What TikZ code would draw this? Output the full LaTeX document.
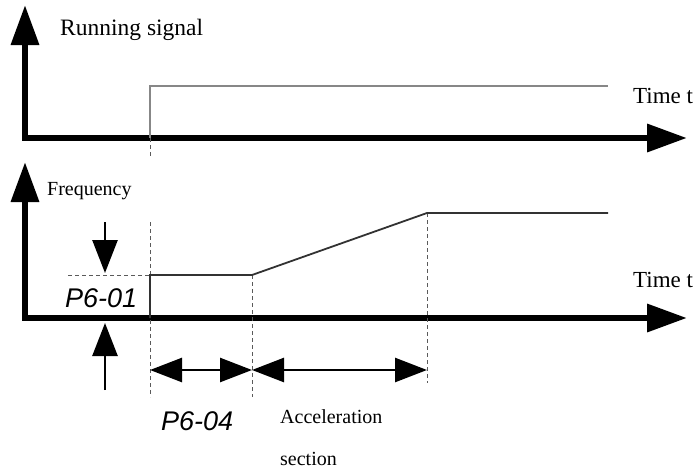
\documentclass[tikz,border=0pt]{standalone}
\usepackage{fontspec}
\setmainfont{Liberation Serif}
\newfontfamily\arialit{Liberation Sans}[ItalicFont={Liberation Sans Italic}]
\usetikzlibrary{arrows.meta}
\begin{document}
\begin{tikzpicture}[x=1pt,y=-1pt,
  axis/.style={line width=6.5pt, line join=miter, -{Triangle[length=40pt,width=27pt]}},
  signal/.style={line width=2.4pt, draw={rgb,255:red,135;green,135;blue,135}},
  freq/.style={line width=1.8pt, draw={rgb,255:red,50;green,50;blue,50}, line join=miter},
  guide/.style={line width=1pt, draw={rgb,255:red,90;green,90;blue,90}, dash pattern=on 4pt off 3pt},
  pointer/.style={line width=2.6pt, -{Triangle[length=33pt,width=25pt]}},
  span/.style={line width=2.6pt, {Triangle[length=32pt,width=24pt]}-{Triangle[length=32pt,width=24pt]}},
  lab/.style={inner sep=0pt, anchor=base west},
  param/.style={inner sep=0pt, anchor=base west, font=\arialit\itshape\fontsize{27}{30}\selectfont}]
\useasboundingbox (0,0) rectangle (695,471);
% coordinates
\coordinate (o1) at (25,138);
\coordinate (y1) at (25,5);
\coordinate (x1) at (687,138);
\coordinate (o2) at (25,318);
\coordinate (y2) at (25,162);
\coordinate (x2) at (687,318);
\coordinate (s0) at (150,138);
\coordinate (s1) at (150,86);
\coordinate (s2) at (608,86);
\coordinate (sd) at (150,158);
\coordinate (f0) at (150,318);
\coordinate (f1) at (150,275);
\coordinate (f2) at (252,275);
\coordinate (f3) at (427,213);
\coordinate (f4) at (608,213);
\coordinate (ft) at (150,222);
\coordinate (fb) at (150,397);
\coordinate (g2b) at (252,397);
\coordinate (g3b) at (427,383);
\coordinate (hl) at (68,275);
\coordinate (da) at (105,222);
\coordinate (db) at (105,273);
\coordinate (ua) at (105,390);
\coordinate (ub) at (105,323);
\coordinate (a0) at (150,370);
\coordinate (a1) at (252,370);
\coordinate (a2) at (427,370);
% axes
\draw[line width=6.5pt, line join=miter, {Triangle[length=40pt,width=27pt]}-{Triangle[length=40pt,width=27pt]}] (y1) -- (o1) -- (x1);
\draw[line width=6.5pt, line join=miter, {Triangle[length=40pt,width=27pt]}-{Triangle[length=40pt,width=27pt]}] (y2) -- (o2) -- (x2);
% signals
\draw[signal] (s0) -- (s1) -- (s2);
\draw[guide] (s0) -- (sd);
\draw[guide] (ft) -- (fb);
\draw[guide] (f2) -- (g2b);
\draw[guide] (f3) -- (g3b);
\draw[guide] (hl) -- (f1);
\draw[freq] (f0) -- (f1) -- (f2) -- (f3) -- (f4);
% arrows
\draw[pointer] (da) -- (db);
\draw[pointer] (ua) -- (ub);
\draw[span] (a0) -- (a1);
\draw[span] (a1) -- (a2);
% labels
\node[lab, font=\fontsize{23.5}{26}\selectfont] (rs) at (60,35) {Running signal};
\node[lab, font=\fontsize{23}{26}\selectfont] (t1) at (633,103) {Time t};
\node[lab, font=\fontsize{23}{26}\selectfont] (t2) at (633,287) {Time t};
\node[lab, font=\fontsize{20}{24}\selectfont] (fq) at (47,195) {Frequency};
\node[lab, font=\fontsize{20}{24}\selectfont] (ac) at (280,423) {Acceleration};
\node[lab, font=\fontsize{20}{24}\selectfont] (se) at (280,465) {section};
\node[param] (p1) at (65,307) {P6-01};
\node[param] (p4) at (161,430) {P6-04};
\end{tikzpicture}
\end{document}
